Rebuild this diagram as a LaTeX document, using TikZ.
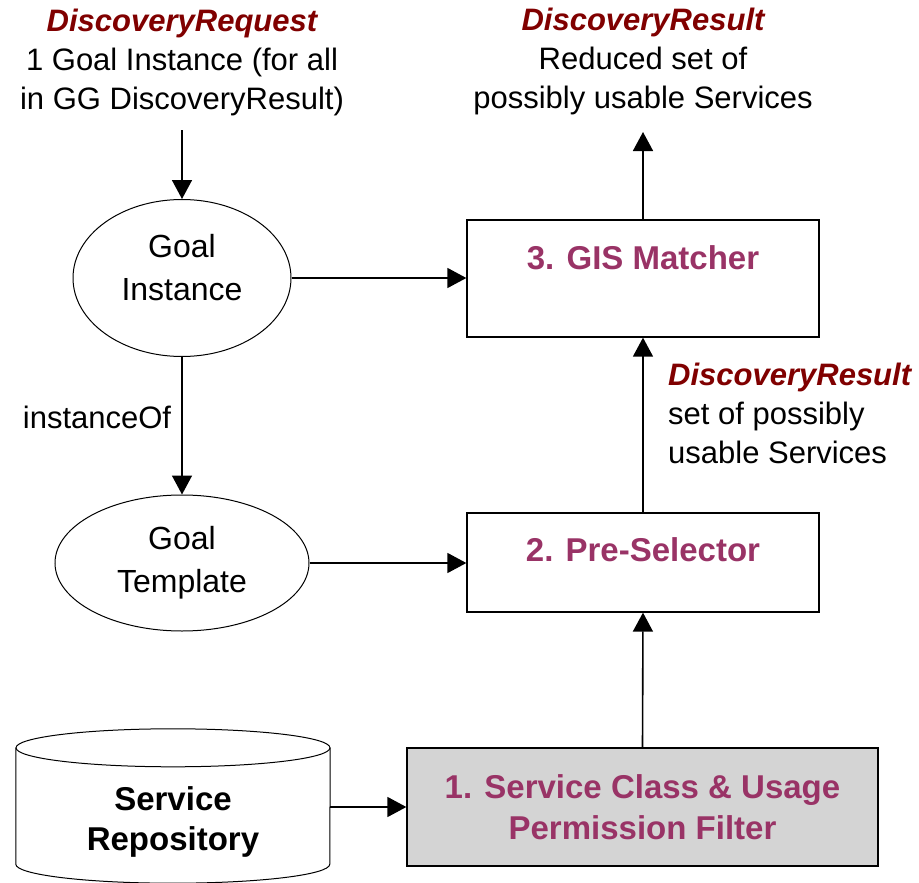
\documentclass[tikz,border=0pt]{standalone}
\usepackage{fontspec}
\setmainfont{Liberation Sans}
\usetikzlibrary{shapes.geometric,arrows.meta,calc}
\definecolor{resultred}{RGB}{128,0,0}
\definecolor{stagepurple}{RGB}{153,51,102}
\definecolor{filtergray}{RGB}{212,212,212}
\begin{document}
\begin{tikzpicture}[x=1pt,y=-1pt,
  txt/.style={font=\fontsize{31}{39}\selectfont, align=center, inner sep=0pt},
  goal/.style={draw, ellipse, line width=1pt, inner sep=0pt},
  goaltext/.style={font=\fontsize{32}{43}\selectfont, align=center, inner sep=0pt, anchor=center},
  stage/.style={draw, rectangle, line width=1.3pt, inner sep=0pt},
  stagetitle/.style={font=\fontsize{33}{41}\selectfont\bfseries, text=stagepurple,
    align=center, inner sep=0pt},
  flow/.style={-{Triangle[length=19pt,width=20pt]}, line width=1.6pt}]
\useasboundingbox (0,0) rectangle (919,883);

% text blocks at the top
\node[txt] (req) at (182,62)
  {{\color{resultred}\bfseries\itshape DiscoveryRequest}\\1 Goal Instance (for all\\in GG DiscoveryResult)};
\node[txt] (res) at (643,61)
  {{\color{resultred}\bfseries\itshape DiscoveryResult}\\Reduced set of\\possibly usable Services};

% goals
\node[goal, minimum width=218pt, minimum height=157pt,
  label={[goaltext, yshift=10pt]center:Goal\\Instance}] (gi) at (182,278) {};
\node[goal, minimum width=254pt, minimum height=136pt,
  label={[goaltext]center:Goal\\Template}] (gt) at (182,563) {};
\node[txt] (inst) at (97,417) {instanceOf};

% processing stages
\node[stage, minimum width=352pt, minimum height=117pt,
  label={[stagetitle, anchor=center, yshift=-38pt]north:3. GIS Matcher}] (gis) at (643,278.5) {};
\node[stage, minimum width=352pt, minimum height=99pt,
  label={[stagetitle, anchor=center, yshift=-37pt]north:2. Pre-Selector}] (pre) at (643,562.5) {};
\node[stage, stagetitle, fill=filtergray, text=stagepurple, minimum width=471pt, minimum height=118pt]
  (filter) at (642.5,807) {1. Service Class \& Usage\\Permission Filter};

\node[txt, anchor=west, align=left] (mid) at (668,413)
  {{\color{resultred}\bfseries\itshape DiscoveryResult}\\set of possibly\\usable Services};

% service repository cylinder
\node[inner sep=0pt, minimum width=314pt, minimum height=135pt,
  label={[inner sep=0pt, anchor=center, yshift=-6pt,
    font=\fontsize{33}{40}\selectfont\bfseries, align=center]center:Service\\Repository}]
  (repo) at (173,815.5) {};
\draw[line width=1pt] (repo.north west) -- ($(repo.south west)+(0,-19)$)
  arc[start angle=180, end angle=360, x radius=157pt, y radius=19pt] -- (repo.north east);
\draw[line width=1pt] (repo.north) ellipse[x radius=157pt, y radius=19pt];

% connectors
\coordinate (reqin) at (182,130);
\coordinate (resout) at (643,132);
\draw[flow] (reqin) -- (gi.north);
\draw[flow] (gi.south) -- (gt.north);
\draw[flow] (gi.east) -- (gi.east -| gis.west);
\draw[flow] (gt.east) -- (gt.east -| pre.west);
\draw[flow] (gis.north) -- (resout);
\draw[flow] (pre.north) -- (gis.south);
\draw[flow] (filter.north) -- (pre.south);
\draw[flow] (repo.east |- filter.west) -- (filter.west);
\end{tikzpicture}
\end{document}
